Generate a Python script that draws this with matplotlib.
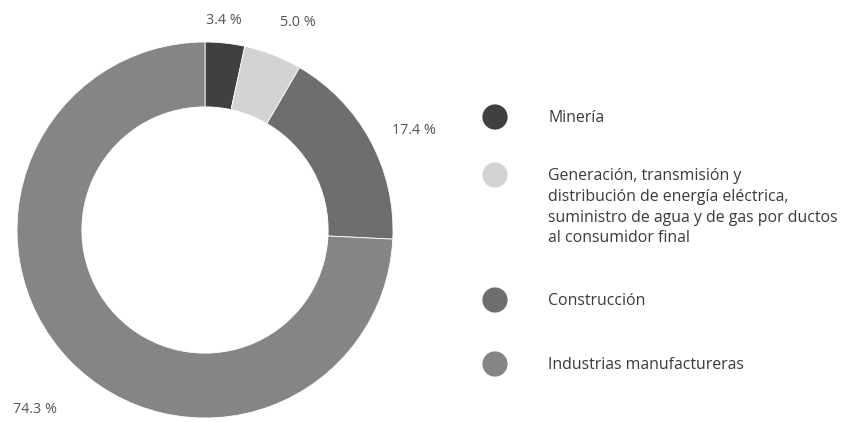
import matplotlib
matplotlib.use("Agg")
import matplotlib.pyplot as plt

categories = ["Minería",
              "Generación, transmisión y\ndistribución de energía eléctrica,\nsuministro de agua y de gas por ductos\nal consumidor final",
              "Construcción",
              "Industrias manufactureras"]
values = [3.4, 5.0, 17.4, 74.3]
value_labels = ["3.4 %", "5.0 %", "17.4 %", "74.3 %"]
colors = ["#404040", "#d3d3d3", "#6e6e6e", "#858585"]

plt.rcParams['font.family'] = ['Open Sans', 'DejaVu Sans']

W, H = 842, 422
fig = plt.figure(figsize=(W / 100, H / 100), dpi=100)

# donut axes: center (205,230) px, radius 188 px
cx, cy, R = 205, 230, 188
ax = fig.add_axes([(cx - R) / W, (H - cy - R) / H, 2 * R / W, 2 * R / H])
ax.pie(values, colors=colors, startangle=90, counterclock=False,
       radius=1.0, wedgeprops=dict(width=0.345, linewidth=0.6, edgecolor="white"))
ax.set_xlim(-1, 1)
ax.set_ylim(-1, 1)
ax.set_aspect("equal")
ax.axis("off")

label_pos = [(0.10, 1.115), (0.495, 1.105), (1.11, 0.53), (-0.905, -0.955)]
for (x, y), t in zip(label_pos, value_labels):
    ax.text(x, y, t, ha="center", va="center", fontsize=10.4, color="#555555", clip_on=False)

# legend in pixel coordinates
lax = fig.add_axes([0, 0, 1, 1])
lax.set_xlim(0, W)
lax.set_ylim(H, 0)
lax.axis("off")
marker_y = [117, 175, 300, 364]
text_y = [117, 175, 300, 364]
for c, lab, my, ty in zip(colors, categories, marker_y, text_y):
    lax.scatter([495], [my], s=330, color=c, edgecolors="none")
    lax.text(548, ty - 7, lab, ha="left", va="top", fontsize=11.4, color="#3a3a3a",
             linespacing=1.4)

fig.savefig("out.png", dpi=100)
